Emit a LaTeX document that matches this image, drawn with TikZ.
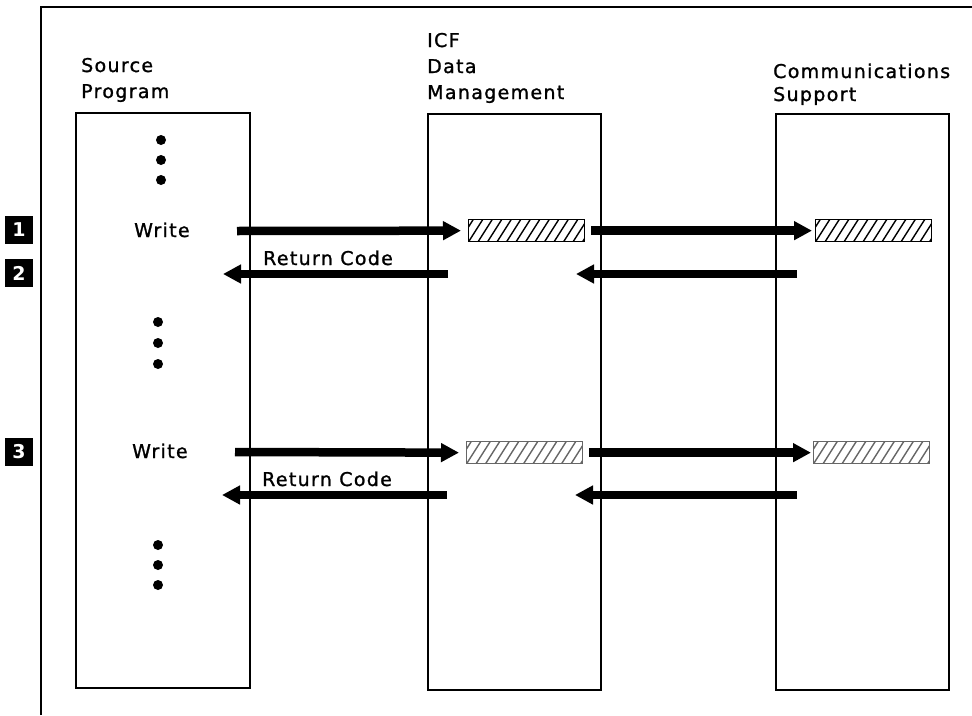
\documentclass[tikz,border=0pt]{standalone}
\usepackage{fontspec}
\setmainfont{DejaVu Sans}[LetterSpace=7, FakeBold=1.2]
\newfontfamily\numfont{DejaVu Sans}
\usetikzlibrary{arrows.meta}
\begin{document}
\begin{tikzpicture}[x=1pt,y=-1pt,
  frame/.style={line width=1.6pt},
  box/.style={draw, line width=1.6pt, inner sep=0, anchor=north west},
  lbl/.style={inner sep=0, anchor=base west, font=\fontsize{19}{20}\selectfont},
  flow/.style={line width=8.5pt, -{Triangle[length=18pt,width=18pt]}},
  num/.style={fill=black, text=white, minimum size=28pt, inner sep=0, font=\numfont\bfseries\fontsize{19}{19}\selectfont},
  hatchbox/.style={draw=#1, line width=1.3pt, minimum width=116pt, minimum height=22pt, inner sep=0, anchor=north west,
    path picture={\foreach \k in {-2,...,13}{\draw[#1, line width=1.4pt] ([xshift=\k*9.5pt]path picture bounding box.south west) -- ++(14pt,22pt);}}},
  hatchbox/.default=black,
  dot/.style={fill=black}]
\useasboundingbox (0,0) rectangle (972,715);
% frame
\coordinate (fb) at (41,715);
\coordinate (fc) at (41,7);
\coordinate (fr) at (972,7);
\draw[frame] (fb) -- (fc) -- (fr);
% column boxes
\node[box, minimum width=174pt, minimum height=575pt] (src) at (75,112) {};
\node[box, minimum width=173pt, minimum height=576pt] (icf) at (427,113) {};
\node[box, minimum width=173pt, minimum height=576pt] (com) at (775,113) {};
% titles
\node[lbl] (t1) at (81,72) {Source};
\node[lbl] (t2) at (81,98) {Program};
\node[lbl] (t3) at (427,47) {ICF};
\node[lbl] (t4) at (427,73) {Data};
\node[lbl] (t5) at (427,99) {Management};
\node[lbl] (t6) at (773,78) {Communications};
\node[lbl] (t7) at (773,101) {Support};
% dots
\foreach \y in {140,160,180}{\fill[dot] (161,\y) circle (5pt);}
\foreach \y in {322,343,364}{\fill[dot] (158,\y) circle (5pt);}
\foreach \y in {545,565,585}{\fill[dot] (158,\y) circle (5pt);}
% step numbers
\node[num] (n1) at (19,230) {1};
\node[num] (n2) at (19,273) {2};
\node[num] (n3) at (19,452) {3};
% first write
\node[lbl] (w1) at (134,237) {Write};
\node[hatchbox] (h1) at (468,219) {};
\node[hatchbox] (h2) at (815,219) {};
\coordinate (a1s) at (237,231);
\draw[flow] (a1s) -- ([xshift=-7pt]h1.west);
\draw[flow] ([xshift=6pt]h1.east) -- ([xshift=-3pt]h2.west);
\node[lbl] (r1) at (263,265) {Return Code};
\coordinate (r1s) at (448,274);
\coordinate (r1e) at (223,274);
\draw[flow] (r1s) -- (r1e);
\coordinate (r2s) at (797,274);
\coordinate (r2e) at (576,274);
\draw[flow] (r2s) -- (r2e);
% second write
\node[lbl] (w2) at (132,458) {Write};
\node[hatchbox=black!60] (h3) at (466,441) {};
\node[hatchbox=black!60] (h4) at (813,441) {};
\coordinate (a3s) at (235,452);
\draw[flow] (a3s) -- ([xshift=-7pt]h3.west);
\draw[flow] ([xshift=6pt]h3.east) -- ([xshift=-2pt]h4.west);
\node[lbl] (r3) at (262,486) {Return Code};
\coordinate (r3s) at (447,495);
\coordinate (r3e) at (222,495);
\draw[flow] (r3s) -- (r3e);
\coordinate (r4s) at (797,495);
\coordinate (r4e) at (575,495);
\draw[flow] (r4s) -- (r4e);
\end{tikzpicture}
\end{document}
